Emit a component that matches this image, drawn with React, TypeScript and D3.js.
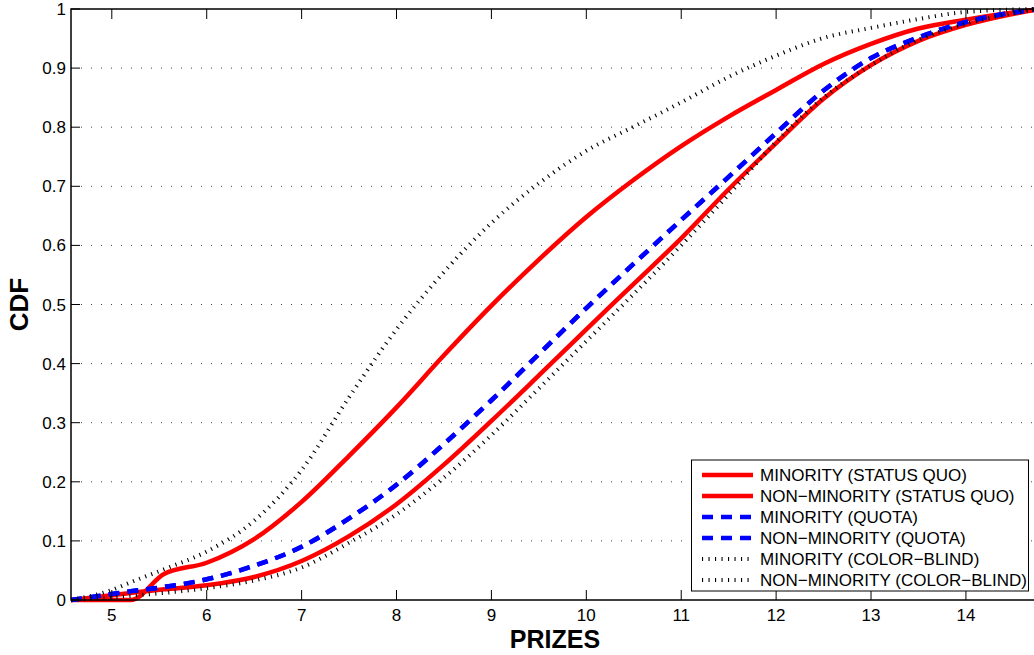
import React from "react";
import * as d3 from "d3";

// Prize grid (x values) shared by all series
const prizes = [4.57, 5.0, 5.2, 5.55, 6.0, 6.5, 7.0, 7.5, 8.0, 8.5, 9.0, 9.5, 10.0, 10.5, 11.0, 11.5, 12.0, 12.5, 13.0, 13.5, 14.0, 14.77];

const minorityStatusQuo = [0, 0, 0, 0.044, 0.063, 0.103, 0.166, 0.244, 0.326, 0.414, 0.498, 0.576, 0.648, 0.711, 0.768, 0.818, 0.863, 0.907, 0.941, 0.967, 0.982, 1.0];
const nonMinorityStatusQuo = [0, 0.008, 0.012, 0.018, 0.025, 0.039, 0.066, 0.108, 0.162, 0.229, 0.303, 0.38, 0.458, 0.535, 0.612, 0.695, 0.773, 0.848, 0.905, 0.946, 0.973, 1.0];
const minorityQuota = [0, 0.01, 0.015, 0.022, 0.035, 0.058, 0.09, 0.138, 0.195, 0.264, 0.338, 0.416, 0.494, 0.569, 0.643, 0.716, 0.79, 0.862, 0.917, 0.952, 0.978, 1.0];
const nonMinorityQuota = [0, 0.01, 0.015, 0.022, 0.035, 0.058, 0.09, 0.138, 0.195, 0.264, 0.338, 0.416, 0.494, 0.569, 0.643, 0.716, 0.79, 0.862, 0.917, 0.952, 0.978, 1.0];
const minorityColorBlind = [0, 0.017, 0.03, 0.052, 0.082, 0.134, 0.22, 0.343, 0.458, 0.555, 0.638, 0.705, 0.76, 0.801, 0.842, 0.885, 0.921, 0.951, 0.968, 0.983, 0.995, 1.0];
const nonMinorityColorBlind = [0, 0.004, 0.007, 0.012, 0.02, 0.033, 0.055, 0.097, 0.145, 0.207, 0.279, 0.358, 0.438, 0.518, 0.6, 0.686, 0.775, 0.85, 0.905, 0.948, 0.975, 1.0];

const legendLabels = [
  "MINORITY (STATUS QUO)",
  "NON\u2212MINORITY (STATUS QUO)",
  "MINORITY (QUOTA)",
  "NON\u2212MINORITY (QUOTA)",
  "MINORITY (COLOR\u2212BLIND)",
  "NON\u2212MINORITY (COLOR\u2212BLIND)",
];

const xTicks = [5, 6, 7, 8, 9, 10, 11, 12, 13, 14];
const yTicks = [0, 0.1, 0.2, 0.3, 0.4, 0.5, 0.6, 0.7, 0.8, 0.9, 1];
const yTickLabels = ["0", "0.1", "0.2", "0.3", "0.4", "0.5", "0.6", "0.7", "0.8", "0.9", "1"];

const styles = [
  { stroke: "#ff0000", width: 4.5, dash: "" },
  { stroke: "#ff0000", width: 4.5, dash: "" },
  { stroke: "#0000ff", width: 4.5, dash: "11,8" },
  { stroke: "#0000ff", width: 4.5, dash: "11,8" },
  { stroke: "#000", width: 4, dash: "1.1,5.4" },
  { stroke: "#000", width: 4, dash: "1.1,5.4" },
];

const series = [
  minorityStatusQuo,
  nonMinorityStatusQuo,
  minorityQuota,
  nonMinorityQuota,
  minorityColorBlind,
  nonMinorityColorBlind,
];

const W = 1034;
const H = 655;
const L = 71;
const R = 1039;
const T = 9;
const B = 600;
const FONT = "'Liberation Sans', Arial, Helvetica, sans-serif";

export default function App() {
  const x = d3.scaleLinear().domain([4.57, 14.77]).range([L, R]);
  const y = d3.scaleLinear().domain([0, 1]).range([B, T]);
  const line = d3
    .line<number>()
    .x((_, i) => x(prizes[i]))
    .y((d) => y(d))
    .curve(d3.curveMonotoneX);

  const legX = 691.5;
  const legY = 460;
  const legW = 337;
  const legH = 131;
  const rowY = (i: number) => 475 + i * 21;

  return (
    <svg
      width={W}
      height={H}
      style={{ position: "absolute", left: 0, top: 0, background: "#fff" }}
      fontFamily={FONT}
    >
      <rect x={0} y={0} width={W} height={H} fill="#fff" />
      <defs>
        <clipPath id="plot">
          <rect x={L} y={T - 3} width={R - L} height={B - T + 6} />
        </clipPath>
      </defs>
      {/* grid */}
      {yTicks.slice(1, -1).map((t) => (
        <line
          key={"g" + t}
          x1={L}
          x2={R}
          y1={y(t)}
          y2={y(t)}
          stroke="#444"
          strokeWidth={1}
          strokeDasharray="1,9"
        />
      ))}
      {/* curves */}
      <g clipPath="url(#plot)">
        {series.map((s, i) => (
          <path
            key={"s" + i}
            d={line(s) || ""}
            fill="none"
            stroke={styles[i].stroke}
            strokeWidth={styles[i].width}
            strokeDasharray={styles[i].dash || undefined}
            strokeLinejoin="round"
          />
        ))}
      </g>
      {/* axes box */}
      <rect x={L} y={T} width={R - L} height={B - T} fill="none" stroke="#000" strokeWidth={1.5} />
      {xTicks.map((t) => (
        <g key={"xt" + t}>
          <line x1={x(t)} x2={x(t)} y1={B} y2={B - 10} stroke="#000" strokeWidth={1} />
          <line x1={x(t)} x2={x(t)} y1={T} y2={T + 10} stroke="#000" strokeWidth={1} />
          <text x={x(t)} y={621} textAnchor="middle" fontSize={17} fill="#000">
            {t}
          </text>
        </g>
      ))}
      {yTicks.map((t, i) => (
        <g key={"yt" + t}>
          <line x1={L} x2={L + 9} y1={y(t)} y2={y(t)} stroke="#000" strokeWidth={1} />
          <text x={66} y={y(t) + 6} textAnchor="end" fontSize={17} fill="#000">
            {yTickLabels[i]}
          </text>
        </g>
      ))}
      <text x={555} y={648} textAnchor="middle" fontSize={25} fontWeight="bold" fill="#000">
        PRIZES
      </text>
      <text
        transform={`translate(28,${(T + B) / 2}) rotate(-90)`}
        textAnchor="middle"
        fontSize={26}
        fontWeight="bold"
        fill="#000"
      >
        CDF
      </text>
      {/* legend */}
      <rect x={legX} y={legY} width={legW} height={legH} fill="#fff" stroke="#000" strokeWidth={1} />
      {legendLabels.map((lab, i) => (
        <g key={"lg" + i}>
          <line
            x1={702}
            x2={753}
            y1={rowY(i)}
            y2={rowY(i)}
            stroke={styles[i].stroke}
            strokeWidth={styles[i].width}
            strokeDasharray={styles[i].dash || undefined}
          />
          <text x={760} y={rowY(i) + 6} fontSize={17} fill="#000">
            {lab}
          </text>
        </g>
      ))}
    </svg>
  );
}
